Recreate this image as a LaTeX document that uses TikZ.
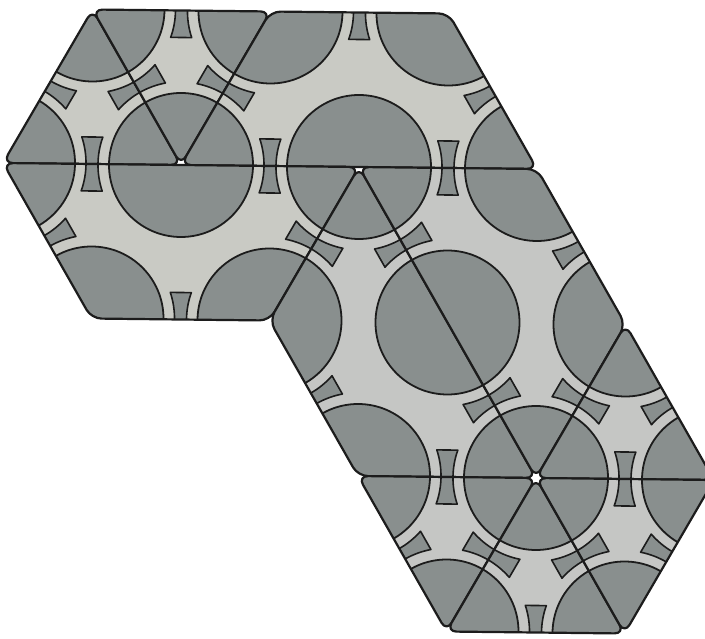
\documentclass[tikz,border=0pt]{standalone}
\usetikzlibrary{calc}
\definecolor{tileA}{RGB}{201,202,196}
\definecolor{tileB}{RGB}{197,198,196}
\definecolor{disc}{RGB}{137,143,142}
\definecolor{ink}{RGB}{28,28,28}

% slot across the middle of a unit edge, sides concentric with the discs
\newcommand\slot[2]{%
  \path let \p1=($(#2)-(#1)$), \n1={atan2(\y1,\x1)} in \pgfextra{\xdef\slotang{\n1}};
  \begin{scope}[shift={($(#1)!0.5!(#2)$)}, rotate=\slotang]
    \filldraw[slotstyle] (-10.5,27) arc[start angle=18.98, end angle=-18.98, radius=83]
      -- (10.5,-27) arc[start angle=198.98, end angle=161.02, radius=83] -- cycle;
  \end{scope}}

% one tile: outline path, disc centres, slot edges, fill colour
\newcommand\tile[4]{%
  \fill[#4, rounded corners=10pt] #1;
  \begin{scope}
    \clip[rounded corners=10pt] #1;
    \foreach \c in {#2} \filldraw[discstyle] (\c) circle[radius=72];
    \foreach \a/\b in {#3} \slot{\a}{\b};
  \end{scope}
  \draw[edgestyle, rounded corners=10pt] #1;}

\begin{document}
\begin{tikzpicture}[x=1pt,y=1pt,
  discstyle/.style={fill=disc, draw=ink, line width=1.8pt},
  slotstyle/.style={fill=disc, draw=ink, line width=1.6pt, line join=round},
  edgestyle/.style={draw=ink, line width=2.2pt, line join=round}]
\fill[white] (0,0) rectangle (705,-639);
\useasboundingbox (0,0) rectangle (705,-639);

% lattice points v<a><b>
\foreach \a in {0,1,2,3} {
  \foreach \b in {0,1,2,3,4} {
    \coordinate (v\a\b) at ({181+178*(\a-1)+88.5*(\b-1)},{-165-2*(\a-1)-155.5*(\b-1)});
  }
}

% upper left hexagon
\tile{(v01) -- (v10) -- (v11) -- cycle}{v01,v10,v11}
  {v01/v10, v10/v11, v11/v01}{tileA}
\tile{(v10) -- (v20) -- (v11) -- cycle}{v10,v20,v11}
  {v10/v20, v20/v11, v11/v10}{tileA}
\tile{(v20) -- (v30) -- (v31) -- (v11) -- cycle}{v20,v30,v31,v21,v11}
  {v20/v30, v30/v31, v31/v21, v21/v11, v11/v20}{tileA}
\tile{(v01) -- (v21) -- (v12) -- (v02) -- cycle}{v01,v11,v21,v12,v02}
  {v01/v11, v11/v21, v21/v12, v12/v02, v02/v01}{tileA}

% diagonal band
\tile{(v21) -- (v12) -- (v13) -- (v23) -- cycle}{v21,v12,v13,v23,v22}
  {v21/v12, v12/v13, v13/v23, v21/v22, v22/v23}{tileB}
\tile{(v21) -- (v31) -- (v32) -- (v23) -- cycle}{v21,v31,v32,v23,v22}
  {v21/v31, v31/v32, v32/v23, v23/v22, v22/v21}{tileB}

% lower right hexagon
\tile{(v32) -- (v33) -- (v23) -- cycle}{v32,v33,v23}
  {v32/v33, v33/v23, v23/v32}{tileB}
\tile{(v13) -- (v23) -- (v14) -- cycle}{v13,v23,v14}
  {v13/v23, v23/v14, v14/v13}{tileB}
\tile{(v14) -- (v23) -- (v24) -- cycle}{v14,v23,v24}
  {v14/v23, v23/v24, v24/v14}{tileB}
\tile{(v23) -- (v33) -- (v24) -- cycle}{v23,v33,v24}
  {v23/v33, v33/v24, v24/v23}{tileB}
\end{tikzpicture}
\end{document}
